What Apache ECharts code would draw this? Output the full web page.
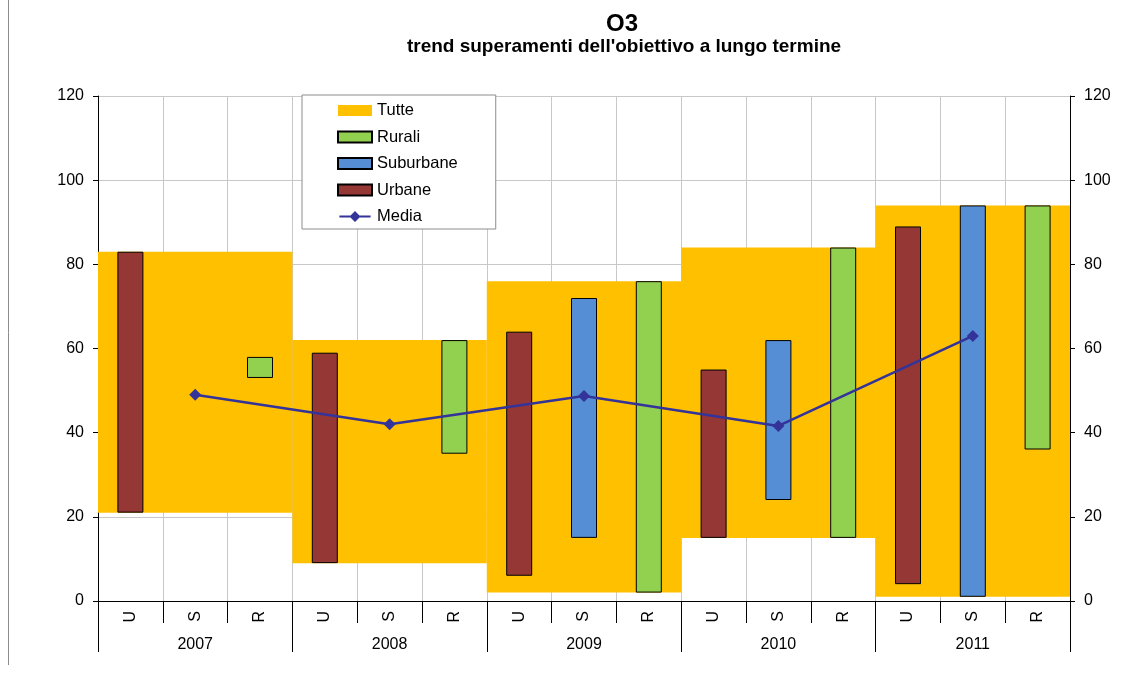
<!DOCTYPE html>
<html>
<head>
<meta charset="utf-8">
<title>O3 - trend superamenti dell'obiettivo a lungo termine</title>
<script src="https://cdn.jsdelivr.net/npm/echarts@6/dist/echarts.min.js"></script>
<style>
  html, body { margin: 0; padding: 0; background: #ffffff; }
  #chart { width: 1125px; height: 673px; }
</style>
</head>
<body>
<div id="chart"></div>
<script>
// Years and station types (U = urbane, S = suburbane, R = rurali)
const years = ['2007', '2008', '2009', '2010', '2011'];
const siteTypes = ['U', 'S', 'R'];
const yTicks = [0, 20, 40, 60, 80, 100, 120];

// Range of exceedances per year: all stations
const tutteMin = [21, 9, 2, 15, 1];
const tutteMax = [83, 62, 76, 84, 94];

// Range per station type (null = no stations of that type)
const urbaneMin = [21, 9, 6, 15, 4];
const urbaneMax = [83, 59, 64, 55, 89];
const suburbaneMin = [null, null, 15, 24, 1];
const suburbaneMax = [null, null, 72, 62, 94];
const ruraliMin = [53, 35, 2, 15, 36];
const ruraliMax = [58, 62, 76, 84, 94];

// Yearly average
const media = [49, 42, 48.7, 41.6, 63];

// Build the 15 U/S/R categories and the floating-bar stacks
const siteCats = [];
const siteBase = [];
const urbaneSpan = [];
const suburbaneSpan = [];
const ruraliSpan = [];
years.forEach((y, i) => {
  const lows = [urbaneMin[i], suburbaneMin[i], ruraliMin[i]];
  const highs = [urbaneMax[i], suburbaneMax[i], ruraliMax[i]];
  const spans = [urbaneSpan, suburbaneSpan, ruraliSpan];
  siteTypes.forEach((t, k) => {
    siteCats.push(t);
    const ok = lows[k] != null && highs[k] != null;
    siteBase.push(ok ? lows[k] : '-');
    spans.forEach((arr, j) => arr.push(j === k && ok ? highs[k] - lows[k] : '-'));
  });
});
const tutteSpan = tutteMax.map((v, i) => v - tutteMin[i]);

const FONT = 'Liberation Sans, Arial, sans-serif';
const GRID_LEFT = 98, GRID_RIGHT = 55, GRID_TOP = 96, GRID_BOTTOM = 72;

// Legend glyph for the average: a line with a diamond in the middle
const MEDIA_ICON = 'path://M0,4.3 L34,4.3 L34,6.7 L0,6.7 Z M17,-0.5 L23,5.5 L17,11.5 L11,5.5 Z';

const chart = echarts.init(document.getElementById('chart'), null, { renderer: 'canvas' });

const hidden = {
  color: 'rgba(0,0,0,0)',
  borderWidth: 0
};
const barBorder = { borderColor: '#000000', borderWidth: 1 };

chart.setOption({
  animation: false,
  backgroundColor: '#ffffff',
  textStyle: { fontFamily: FONT },
  title: [
    {
      text: 'O3',
      left: 617, top: 7, textAlign: 'center',
      textStyle: { fontFamily: FONT, fontSize: 24, fontWeight: 'bold', color: '#000' }
    },
    {
      text: "trend superamenti dell'obiettivo a lungo termine",
      left: 619, top: 32, textAlign: 'center',
      textStyle: { fontFamily: FONT, fontSize: 19, fontWeight: 'bold', color: '#000' }
    }
  ],
  graphic: [
    {
      type: 'line',
      shape: { x1: 8.5, y1: 0, x2: 8.5, y2: 665 },
      style: { stroke: '#8c8c8c', lineWidth: 1 },
      silent: true
    }
  ],
  legend: {
    data: [
      { name: 'Tutte', icon: 'rect' },
      { name: 'Rurali', icon: 'rect' },
      { name: 'Suburbane', icon: 'rect' },
      { name: 'Urbane', icon: 'rect' },
      { name: 'Media', icon: MEDIA_ICON }
    ],
    orient: 'vertical',
    left: 302, top: 95,
    padding: [7, 38, 4, 35],
    itemGap: 9.5,
    itemWidth: 34,
    itemHeight: 11,
    backgroundColor: '#ffffff',
    borderColor: '#8c8c8c',
    borderWidth: 1,
    selectedMode: false,
    textStyle: { fontFamily: FONT, fontSize: 16.5, color: '#000', lineHeight: 16 }
  },
  grid: { left: GRID_LEFT, right: GRID_RIGHT, top: GRID_TOP, bottom: GRID_BOTTOM, containLabel: false },
  xAxis: [
    {
      type: 'category',
      data: siteCats,
      position: 'bottom',
      boundaryGap: true,
      axisLine: { show: true, lineStyle: { color: '#000', width: 1 } },
      axisTick: { show: true, interval: 0, length: 22, lineStyle: { color: '#000', width: 1 } },
      axisLabel: { interval: 0, rotate: 90, margin: 10, fontFamily: FONT, fontSize: 16, color: '#000' },
      splitLine: { show: true, interval: 0, lineStyle: { color: '#c8c8c8', width: 1 } }
    },
    {
      type: 'category',
      data: years,
      position: 'bottom',
      boundaryGap: true,
      axisLine: { show: false },
      axisTick: { show: true, interval: 0, length: 51, lineStyle: { color: '#000', width: 1 } },
      axisLabel: { interval: 0, margin: 36, fontFamily: FONT, fontSize: 16, color: '#000' },
      splitLine: { show: false }
    }
  ],
  yAxis: [
    {
      type: 'value',
      position: 'left',
      min: yTicks[0], max: yTicks[yTicks.length - 1], interval: 20,
      axisLine: { show: true, lineStyle: { color: '#000', width: 1 } },
      axisTick: { show: true, length: 5, lineStyle: { color: '#000' } },
      axisLabel: { margin: 14, fontFamily: FONT, fontSize: 16, color: '#000' },
      splitLine: { show: true, lineStyle: { color: '#c8c8c8', width: 1 } }
    },
    {
      type: 'value',
      position: 'right',
      min: yTicks[0], max: yTicks[yTicks.length - 1], interval: 20,
      axisLine: { show: true, lineStyle: { color: '#000', width: 1 } },
      axisTick: { show: true, length: 5, lineStyle: { color: '#000' } },
      axisLabel: { margin: 14, fontFamily: FONT, fontSize: 16, color: '#000' },
      splitLine: { show: false }
    }
  ],
  series: [
    // All-stations range, one block per year
    {
      name: 'tutteBase', type: 'bar', xAxisIndex: 1, yAxisIndex: 0,
      stack: 'tutte', data: tutteMin, barWidth: '100%', barGap: '0%',
      itemStyle: hidden, silent: true, z: 1
    },
    {
      name: 'Tutte', type: 'bar', xAxisIndex: 1, yAxisIndex: 0,
      stack: 'tutte', data: tutteSpan, barWidth: '100%', barGap: '0%',
      itemStyle: { color: '#FFC000', borderWidth: 0 }, silent: true, z: 1
    },
    // Station-type ranges
    {
      name: 'sitoBase', type: 'bar', xAxisIndex: 0, yAxisIndex: 0,
      stack: 'sito', data: siteBase, barWidth: 26,
      itemStyle: hidden, silent: true, z: 2
    },
    {
      name: 'Urbane', type: 'bar', xAxisIndex: 0, yAxisIndex: 0,
      stack: 'sito', data: urbaneSpan, barWidth: 26,
      itemStyle: Object.assign({ color: '#953735' }, barBorder), silent: true, z: 2
    },
    {
      name: 'Suburbane', type: 'bar', xAxisIndex: 0, yAxisIndex: 0,
      stack: 'sito', data: suburbaneSpan, barWidth: 26,
      itemStyle: Object.assign({ color: '#558ED5' }, barBorder), silent: true, z: 2
    },
    {
      name: 'Rurali', type: 'bar', xAxisIndex: 0, yAxisIndex: 0,
      stack: 'sito', data: ruraliSpan, barWidth: 26,
      itemStyle: Object.assign({ color: '#92D050' }, barBorder), silent: true, z: 2
    },
    // Yearly average
    {
      name: 'Media', type: 'line', xAxisIndex: 1, yAxisIndex: 0,
      data: media,
      symbol: 'diamond', symbolSize: 12,
      lineStyle: { color: '#333399', width: 2.5 },
      itemStyle: { color: '#333399' },
      silent: true, z: 4
    }
  ]
});
</script>
</body>
</html>
